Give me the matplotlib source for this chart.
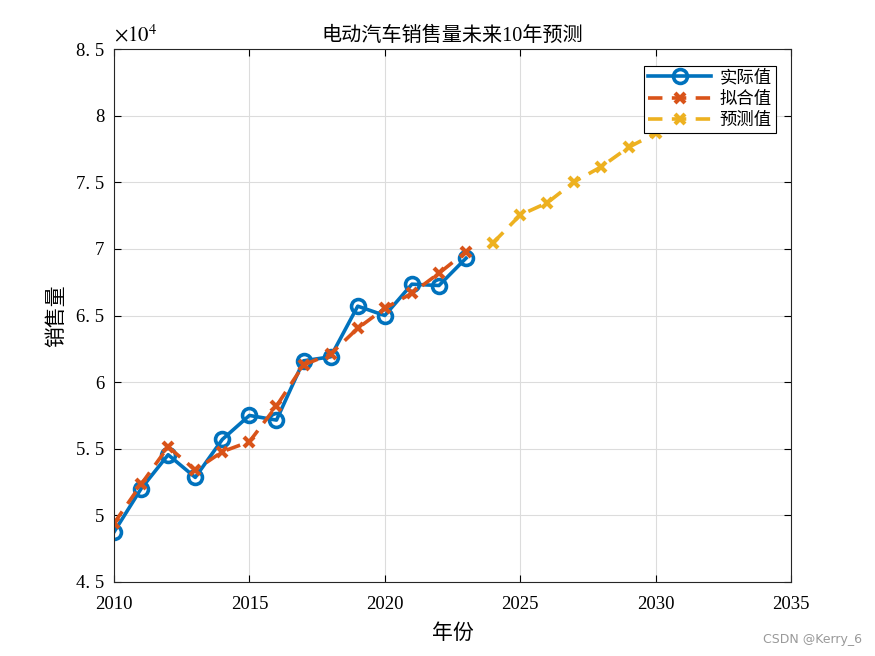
import matplotlib.pyplot as plt
import numpy as np

plt.rcParams['font.family'] = ['Liberation Serif', 'Noto Sans CJK SC', 'DejaVu Sans']
plt.rcParams['mathtext.fontset'] = 'stix'

# data
years_actual = [2010, 2011, 2012, 2013, 2014, 2015, 2016,
                2017, 2018, 2019, 2020, 2021, 2022, 2023]
actual = [48750, 52000, 54550, 52850, 55700, 57500, 57150,
          61600, 61900, 65700, 65000, 67350, 67250, 69300]
fitted = [49400, 52330, 55150, 53400, 54780, 55530, 58210,
          61290, 62110, 64040, 65540, 66670, 68170, 69790]
years_pred = [2024, 2025, 2026, 2027, 2028, 2029, 2030, 2031, 2032, 2033]
predicted = [70460, 72540, 73460, 75040, 76170, 77620, 78670, 79700, 80800, 81900]

yticks = [4.5, 5, 5.5, 6, 6.5, 7, 7.5, 8, 8.5]
xticks = [2010, 2015, 2020, 2025, 2030, 2035]

blue = '#0072BD'
orange = '#D95319'
yellow = '#EDB120'

fig = plt.figure(figsize=(8.75, 6.56), dpi=100)
ax = fig.add_axes([114 / 875, 1 - 582 / 656, (791 - 114) / 875, (582 - 49) / 656])

ax.plot(years_actual, np.array(actual) / 1e4, '-o', color=blue, lw=2.6,
        markersize=10, markerfacecolor='none', markeredgewidth=2.6, label='实际值')
ax.plot(years_actual, np.array(fitted) / 1e4, linestyle=(0, (4, 2.6)), marker='x',
        color=orange, lw=2.6, markersize=7, markeredgewidth=3, label='拟合值')
ax.plot(years_pred, np.array(predicted) / 1e4, linestyle=(0, (4, 2.6)), marker='x',
        color=yellow, lw=2.6, markersize=7, markeredgewidth=3, label='预测值')

ax.set_xlim(2010, 2035)
ax.set_ylim(4.5, 8.5)
ax.set_xticks(xticks)
ax.set_yticks(yticks)
ax.set_yticklabels([f'{v:g}'.replace('.', '. ') for v in yticks])
ax.tick_params(direction='in', top=True, right=True, labelsize=13.5, length=5, width=0.8)
ax.tick_params(axis='x', pad=10)
ax.tick_params(axis='y', pad=7)
ax.grid(True, color='#dcdcdc', lw=0.8)
ax.set_axisbelow(True)
for s in ax.spines.values():
    s.set_linewidth(0.8)
    s.set_color('#262626')

ax.text(0.0, 1.005, r'$\times 10^4$', transform=ax.transAxes, fontsize=15,
        ha='left', va='bottom')
ax.set_title('电动汽车销售量未来10年预测', fontsize=14.5, pad=6)
ax.set_xlabel('年份', fontsize=15, labelpad=8)
ax.set_ylabel('销售量', fontsize=15, labelpad=6)

leg = ax.legend(loc='upper right', bbox_to_anchor=(0.978, 0.969), fontsize=12.5,
                fancybox=False, framealpha=1, edgecolor='black', handlelength=3.6,
                borderpad=0.25, labelspacing=0.28, handletextpad=0.5, borderaxespad=0)
leg.get_frame().set_linewidth(0.8)

fig.text(0.985, 0.02, 'CSDN @Kerry_6', fontsize=9, color='#999999', ha='right',
         family=['DejaVu Sans'])

fig.savefig('out.png', dpi=100)
